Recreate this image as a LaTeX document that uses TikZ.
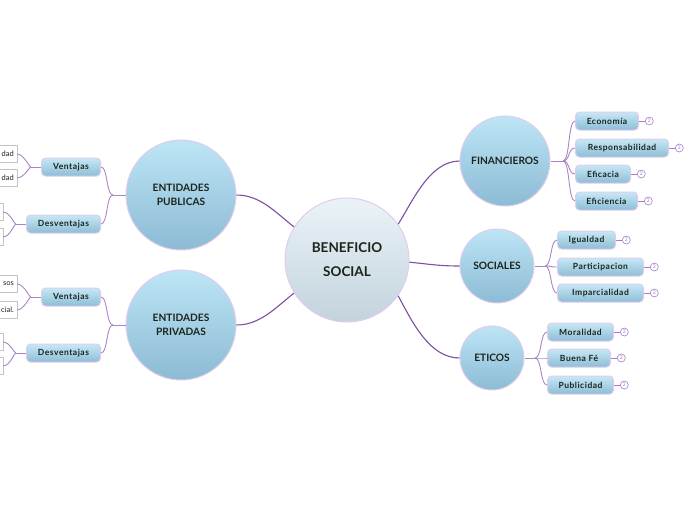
\documentclass[tikz,border=0pt]{standalone}
\usepackage{fontspec}
\setmainfont{Lato}
\newfontfamily\subfont{Lato}[LetterSpace=6]
\usetikzlibrary{positioning}
\definecolor{mmline}{HTML}{7B4FA3}
\definecolor{mmsub}{HTML}{A985C6}
\definecolor{mmring}{HTML}{E0CDEC}
\definecolor{mmtext}{HTML}{1C241C}
\definecolor{rootTop}{HTML}{EAF3F8}
\definecolor{rootBot}{HTML}{C3D3DC}
\definecolor{topTop}{HTML}{BDE5F6}
\definecolor{topBot}{HTML}{8CBBD4}
\definecolor{subTop}{HTML}{C6E8F6}
\definecolor{subBot}{HTML}{8DBDD6}
\definecolor{leafgray}{HTML}{C4C4C4}
\definecolor{cntcol}{HTML}{A77CC8}

\begin{document}
\begin{tikzpicture}[x=1pt,y=-1pt,font=\bfseries,
  link/.style={draw=mmline,line width=1.1pt},
  sublink/.style={draw=mmsub,line width=0.9pt},
  thin/.style={draw=cntcol,line width=0.6pt},
  root/.style={circle,draw=mmring,line width=1pt,minimum size=124pt,inner sep=0pt,
    top color=rootTop,bottom color=rootBot,align=center,text=mmtext,
    font=\bfseries\fontsize{13.5}{24}\selectfont},
  topic/.style={circle,draw=mmring,line width=1pt,inner sep=0pt,
    top color=topTop,bottom color=topBot,align=center,text=mmtext,
    font=\bfseries\fontsize{10.2}{14}\selectfont},
  sub/.style={rounded corners=4pt,draw=mmring,line width=1pt,top color=subTop,bottom color=subBot,
    minimum height=18pt,inner sep=0pt,text=mmtext,font=\subfont\bfseries\fontsize{8.5}{9}\selectfont},
  leaf/.style={draw=leafgray,fill=white,minimum height=17pt,inner sep=3pt,anchor=east,
    text width=54pt,align=right,text=mmtext,font=\fontsize{7.5}{9}\selectfont},
  cnt/.style={circle,draw=cntcol,fill=white,line width=0.6pt,minimum size=8pt,inner sep=0pt,
    text=cntcol,font=\fontsize{5}{5}\selectfont}]

\useasboundingbox (0,0) rectangle (696,520);
\clip (0,0) rectangle (696,520);

% ---- centre ----
\node[root] (bs) at (347,260) {BENEFICIO\\SOCIAL};

% ---- right topics ----
\node[topic,minimum size=90pt] (fin) at (505,161) {FINANCIEROS};
\node[topic,minimum size=74pt] (soc) at (497,266) {SOCIALES};
\node[topic,minimum size=64pt] (eti) at (492,358) {ETICOS};

\draw[link] (bs.35) .. controls +(14,-22) and +(-30,0) .. (fin.west);
\draw[link] (bs.-2) .. controls +(20,2) and +(-20,0) .. (soc.west);
\draw[link] (bs.-35) .. controls +(14,26) and +(-30,0) .. (eti.west);

% ---- left topics ----
\node[topic,minimum size=110pt] (pub) at (181,195) {ENTIDADES\\PUBLICAS};
\node[topic,minimum size=110pt] (priv) at (181,325) {ENTIDADES\\PRIVADAS};

\draw[link] (bs.148) .. controls +(-18,-14) and +(24,0) .. (pub.east);
\draw[link] (bs.212) .. controls +(-18,14) and +(24,0) .. (priv.east);

% ---- FINANCIEROS branch ----
\coordinate (finj) at (563,161);
\draw[sublink] (fin.east) -- (finj);
\foreach \n/\t/\y/\w in {eco/Economía/121/63,res/Responsabilidad/148/93,
                          efa/Eficacia/174/55,efi/Eficiencia/201/62}{
  \node[sub,anchor=west,minimum width=\w pt] (\n) at (575,\y) {\t};
  \node[cnt,right=6pt of \n] (\n c) {2};
  \draw[thin] (\n) -- (\n c);
  \draw[sublink] (finj) .. controls +(7,0) and +(-7,0) .. (\n.west);
}

% ---- SOCIALES branch ----
\coordinate (socj) at (545,266);
\draw[sublink] (soc.east) -- (socj);
\foreach \n/\t/\y/\w in {igu/Igualdad/240/58,par/Participacion/267/86,imp/Imparcialidad/293/86}{
  \node[sub,anchor=west,minimum width=\w pt] (\n) at (557,\y) {\t};
  \node[cnt,right=6pt of \n] (\n c) {2};
  \draw[thin] (\n) -- (\n c);
  \draw[sublink] (socj) .. controls +(7,0) and +(-7,0) .. (\n.west);
}

% ---- ETICOS branch ----
\coordinate (etij) at (535,358);
\draw[sublink] (eti.east) -- (etij);
\foreach \n/\t/\y/\w in {mor/Moralidad/332/66,bue/Buena Fé/358/63,pbl/Publicidad/385/66}{
  \node[sub,anchor=west,minimum width=\w pt] (\n) at (547,\y) {\t};
  \node[cnt,right=6pt of \n] (\n c) {2};
  \draw[thin] (\n) -- (\n c);
  \draw[sublink] (etij) .. controls +(7,0) and +(-7,0) .. (\n.west);
}

% ---- ENTIDADES PUBLICAS branch ----
\coordinate (pubj) at (113,195);
\node[sub,anchor=east,minimum width=59pt] (pv) at (101,167) {Ventajas};
\node[sub,anchor=east,minimum width=74pt] (pd) at (101,224) {Desventajas};
\draw[sublink] (pub.west) -- (pubj);
\draw[sublink] (pubj) .. controls +(-7,0) and +(7,0) .. (pv.east);
\draw[sublink] (pubj) .. controls +(-7,0) and +(7,0) .. (pd.east);

\coordinate (pvj) at (31,167);
\coordinate (pdj) at (16,224);
\node[leaf] (pv1) at (17,154) {dad};
\node[leaf] (pv2) at (17,178) {dad};
\node[leaf] (pd1) at (3,212) {};
\node[leaf] (pd2) at (3,237) {};
\draw[sublink] (pv.west) -- (pvj);
\draw[sublink] (pd.west) -- (pdj);
\foreach \l in {pv1,pv2}{\draw[sublink] (pvj) .. controls +(-2,0) and +(7,0) .. (\l.east);}
\foreach \l in {pd1,pd2}{\draw[sublink] (pdj) .. controls +(-2,0) and +(7,0) .. (\l.east);}

% ---- ENTIDADES PRIVADAS branch ----
\coordinate (privj) at (113,325);
\node[sub,anchor=east,minimum width=59pt] (rv) at (101,297) {Ventajas};
\node[sub,anchor=east,minimum width=74pt] (rd) at (101,353) {Desventajas};
\draw[sublink] (priv.west) -- (privj);
\draw[sublink] (privj) .. controls +(-7,0) and +(7,0) .. (rv.east);
\draw[sublink] (privj) .. controls +(-7,0) and +(7,0) .. (rd.east);

\coordinate (rvj) at (31,297);
\coordinate (rdj) at (16,353);
\node[leaf] (rv1) at (17,284) {sos};
\node[leaf] (rv2) at (17,310) {cial.};
\node[leaf] (rd1) at (3,342) {};
\node[leaf] (rd2) at (3,366) {};
\draw[sublink] (rv.west) -- (rvj);
\draw[sublink] (rd.west) -- (rdj);
\foreach \l in {rv1,rv2}{\draw[sublink] (rvj) .. controls +(-2,0) and +(7,0) .. (\l.east);}
\foreach \l in {rd1,rd2}{\draw[sublink] (rdj) .. controls +(-2,0) and +(7,0) .. (\l.east);}

\end{tikzpicture}
\end{document}
